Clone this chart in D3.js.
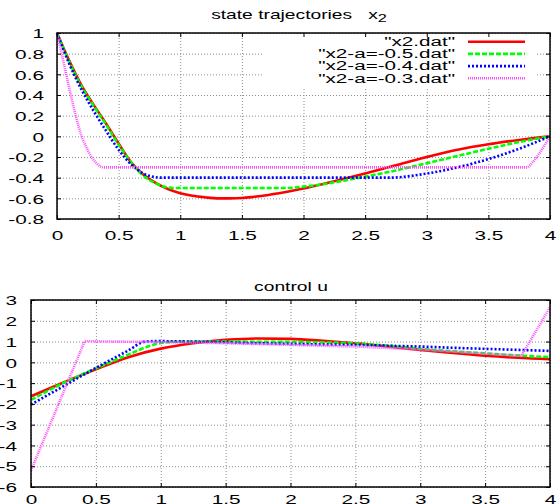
<!DOCTYPE html>
<html>
<head>
<meta charset="utf-8">
<script src="https://cdn.jsdelivr.net/npm/d3@7"></script>
<style>
  html, body { margin: 0; padding: 0; background: #fff; }
  svg { display: block; font-family: "Liberation Sans", Arial, Helvetica, sans-serif; }
  text { fill: #000; }
</style>
</head>
<body>
<svg id="chart" width="559" height="504"></svg>
<script>
// ---------------- data ----------------
// state x2 (top panel)
const tX2Red   = [0,0.1,0.2,0.3,0.4,0.5,0.6,0.7,0.8,0.9,1.0,1.1,1.2,1.3,1.4,1.5,1.6,1.7,1.8,2.0,2.25,2.5,2.75,3.0,3.25,3.5,3.75,4.0];
const x2Red    = [1,0.73,0.49,0.3,0.12,-0.07,-0.25,-0.37,-0.45,-0.51,-0.55,-0.575,-0.59,-0.6,-0.6,-0.597,-0.585,-0.57,-0.55,-0.505,-0.435,-0.36,-0.28,-0.2,-0.13,-0.077,-0.035,0];

const tX2Green = [0,0.1,0.2,0.3,0.4,0.5,0.6,0.7,0.8,0.9,0.95,1.2,1.5,1.85,2.0,2.25,2.5,2.75,3.0,3.25,3.5,3.75,4.0];
const x2Green  = [1,0.72,0.48,0.29,0.11,-0.08,-0.25,-0.38,-0.455,-0.495,-0.5,-0.5,-0.5,-0.5,-0.487,-0.445,-0.39,-0.33,-0.26,-0.19,-0.12,-0.055,0];

const tX2Blue  = [0,0.1,0.2,0.3,0.4,0.5,0.6,0.7,0.8,0.85,1.5,2.0,2.7,3.0,3.25,3.5,3.75,4.0];
const x2Blue   = [1,0.7,0.45,0.24,0.05,-0.13,-0.27,-0.36,-0.395,-0.4,-0.4,-0.4,-0.4,-0.36,-0.3,-0.22,-0.12,0];

const tX2Pink  = [0,0.038,0.075,0.112,0.152,0.2,0.24,0.28,0.32,0.35,0.376,1.0,2.0,3.0,3.81,3.86,3.93,4.0];
const x2Pink   = [1,0.8,0.6,0.4,0.2,0,-0.11,-0.2,-0.26,-0.29,-0.3,-0.3,-0.3,-0.3,-0.3,-0.25,-0.135,0];

// control u (bottom panel)
const tURed    = [0,0.25,0.5,0.75,1.0,1.25,1.5,1.75,2.0,2.25,2.5,2.75,3.0,3.25,3.5,3.75,4.0];
const uRed     = [-1.63,-0.97,-0.34,0.25,0.66,0.92,1.08,1.15,1.13,1.04,0.92,0.77,0.6,0.45,0.32,0.22,0.15];

const tUGreen  = [0,0.25,0.5,0.75,0.9,1.0,1.1,1.25,1.5,1.75,2.0,2.25,2.5,2.75,3.0,3.25,3.5,3.75,4.0];
const uGreen   = [-1.81,-0.99,-0.29,0.37,0.76,0.93,0.99,1.0,1.0,0.99,0.98,0.96,0.91,0.8,0.65,0.53,0.43,0.33,0.25];

const tUBlue   = [0,0.25,0.5,0.75,0.88,0.95,1.25,1.5,1.75,2.0,2.25,2.5,2.75,3.0,3.25,3.5,3.75,4.0];
const uBlue    = [-2.03,-1.15,-0.27,0.57,1.0,1.02,1.0,0.96,0.92,0.89,0.86,0.84,0.8,0.76,0.7,0.65,0.6,0.55];

const tUPink   = [0,0.414,0.6,0.8,1.0,1.25,1.5,1.75,2.0,2.25,2.5,2.75,3.0,3.25,3.5,3.78,4.0];
const uPink    = [-5.2,1.02,1.0,0.99,0.97,0.95,0.92,0.88,0.84,0.8,0.76,0.69,0.61,0.52,0.42,0.31,2.65];

const legendLabels = ['"x2.dat"', '"x2-a=-0.5.dat"', '"x2-a=-0.4.dat"', '"x2-a=-0.3.dat"'];
const xTickValues  = [0,0.5,1,1.5,2,2.5,3,3.5,4];
const yTicksTop    = [-0.8,-0.6,-0.4,-0.2,0,0.2,0.4,0.6,0.8,1];
const yTicksBottom = [-6,-5,-4,-3,-2,-1,0,1,2,3];

// ---------------- styles ----------------
const colors = ['#ff0000', '#00ff00', '#0000ff', '#ff4dff'];
const dashes = [null, '5,2', '2,2', '1,1'];
const LW = 2.6;
const KT = 1.6;   // horizontal stretch of tick text
const KL = 1.72;  // horizontal stretch of legend text
const KH = 1.48;  // horizontal stretch of titles

const svg = d3.select('#chart');

function zip(ts, vs) { return ts.map((t, i) => [t, vs[i]]); }

function drawPanel(p) {
  const x = d3.scaleLinear().domain([0, 4]).range([p.l, p.r]);
  const y = d3.scaleLinear().domain(p.yDomain).range([p.b, p.t]);
  const g = svg.append('g');

  // grid
  const grid = g.append('g');
  grid.append('g').attr('transform', `translate(0,${p.b})`)
    .call(d3.axisBottom(x).tickValues(xTickValues).tickSize(-(p.b - p.t)).tickFormat(''));
  grid.append('g').attr('transform', `translate(${p.l},0)`)
    .call(d3.axisLeft(y).tickValues(p.yTicks).tickSize(-(p.r - p.l)).tickFormat(''));
  grid.selectAll('.domain').remove();
  grid.selectAll('line').attr('stroke', '#8c8c8c').attr('stroke-width', 1).attr('stroke-dasharray', '1,2');

  if (p.legend) {
    g.append('rect').attr('x', 262).attr('y', p.t + 1).attr('width', 273).attr('height', 53).attr('fill', '#fff');
  }

  // curves
  p.series.forEach((s, i) => {
    const line = d3.line().x(d => x(d[0])).y(d => y(d[1])).curve(s.curve || d3.curveMonotoneX);
    g.append('path').datum(zip(s.t, s.v))
      .attr('d', line).attr('fill', 'none')
      .attr('stroke', colors[i]).attr('stroke-width', LW)
      .attr('stroke-dasharray', dashes[i]);
  });

  // border
  g.append('rect').attr('x', p.l).attr('y', p.t).attr('width', p.r - p.l).attr('height', p.b - p.t)
    .attr('fill', 'none').attr('stroke', '#000').attr('stroke-width', 1.5);

  // ticks (inward, mirrored)
  const axB = g.append('g').attr('transform', `translate(0,${p.b})`)
    .call(d3.axisBottom(x).tickValues(xTickValues).tickSize(-4).tickFormat(d => String(d)));
  const axT = g.append('g').attr('transform', `translate(0,${p.t})`)
    .call(d3.axisTop(x).tickValues(xTickValues).tickSize(-4).tickFormat(''));
  const axL = g.append('g').attr('transform', `translate(${p.l},0)`)
    .call(d3.axisLeft(y).tickValues(p.yTicks).tickSize(-4).tickFormat(d => String(d)));
  const axR = g.append('g').attr('transform', `translate(${p.r},0)`)
    .call(d3.axisRight(y).tickValues(p.yTicks).tickSize(-4).tickFormat(''));
  [axB, axT, axL, axR].forEach(a => {
    a.select('.domain').remove();
    a.selectAll('line').attr('stroke', '#000').attr('stroke-width', 1);
    a.attr('font-family', null).attr('font-size', null);
  });
  axB.selectAll('text').attr('y', p.xLabelOffset).attr('dy', null)
    .attr('transform', `scale(${KT},1)`).style('font-size', '13px').attr('fill', '#000');
  axL.selectAll('text').attr('x', -p.yLabelPad / KT).attr('dy', '0.36em')
    .attr('transform', `scale(${KT},1)`).style('font-size', '13px').attr('fill', '#000');

  // title
  const tg = svg.append('g').attr('transform', `translate(${p.titleX},${p.titleY}) scale(${KH},1)`);
  const tt = tg.append('text').attr('text-anchor', 'middle').style('font-size', '13px').style('white-space', 'pre');
  tt.append('tspan').text(p.title);
  if (p.titleSub) {
    tt.append('tspan').attr('dy', 3).style('font-size', '11px').text(p.titleSub);
  }

  // legend
  if (p.legend) {
    legendLabels.forEach((lab, i) => {
      const cy = 41.7 + i * 12.2;
      svg.append('g').attr('transform', `translate(455,${cy + 4.2}) scale(${KL},1)`)
        .append('text').attr('text-anchor', 'end').style('font-size', '12px').text(lab);
      svg.append('line').attr('x1', 468).attr('x2', 525).attr('y1', cy).attr('y2', cy)
        .attr('stroke', colors[i]).attr('stroke-width', LW).attr('stroke-dasharray', dashes[i]);
    });
  }
}

drawPanel({
  l: 57, r: 550, t: 33, b: 219,
  yDomain: [-0.8, 1], yTicks: yTicksTop,
  xLabelOffset: 21, yLabelPad: 13,
  title: 'state trajectories   x', titleSub: '2', titleX: 299, titleY: 19,
  legend: true,
  series: [
    { t: tX2Red, v: x2Red },
    { t: tX2Green, v: x2Green },
    { t: tX2Blue, v: x2Blue },
    { t: tX2Pink, v: x2Pink }
  ]
});

drawPanel({
  l: 31, r: 550, t: 300, b: 487,
  yDomain: [-6, 3], yTicks: yTicksBottom,
  xLabelOffset: 17, yLabelPad: 14,
  title: 'control u', titleX: 291, titleY: 291,
  legend: false,
  series: [
    { t: tURed, v: uRed },
    { t: tUGreen, v: uGreen },
    { t: tUBlue, v: uBlue },
    { t: tUPink, v: uPink, curve: d3.curveLinear }
  ]
});
</script>
</body>
</html>
